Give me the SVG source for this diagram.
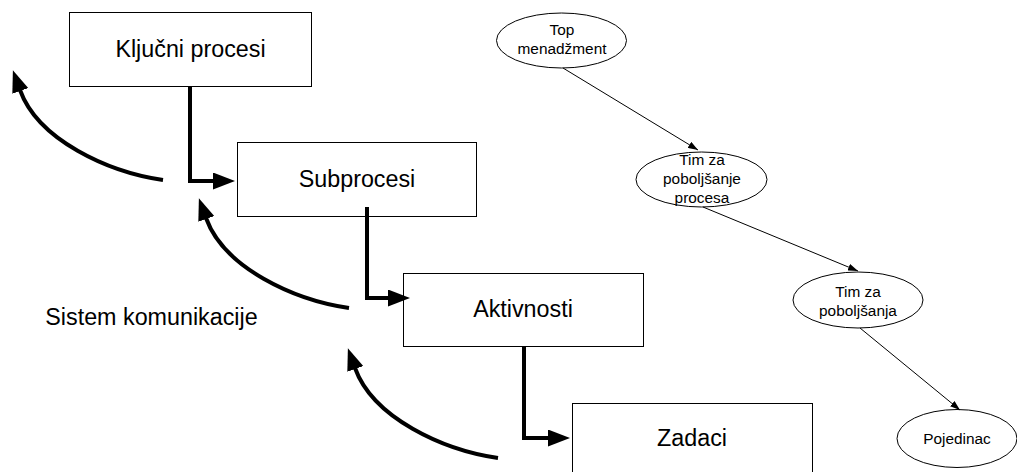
<svg xmlns="http://www.w3.org/2000/svg" width="1017" height="472" viewBox="0 0 1017 472">
  <style>
    .box { fill: #ffffff; stroke: #000000; stroke-width: 1; }
    .oval { fill: #ffffff; stroke: #000000; stroke-width: 1; }
    .big { font-family: "Liberation Sans", Arial, sans-serif; font-size: 23.3px; fill: #000000; text-anchor: middle; }
    .small { font-family: "Liberation Sans", Arial, sans-serif; font-size: 15.4px; fill: #000000; text-anchor: middle; }
    .thick { fill: none; stroke: #000000; stroke-width: 4; marker-end: url(#headBig); }
    .thin { fill: none; stroke: #000000; stroke-width: 1; marker-end: url(#headSmall); }
  </style>
  <defs>
    <marker id="headBig" markerUnits="userSpaceOnUse" markerWidth="22" markerHeight="17" viewBox="0 0 22 17" refX="1" refY="8.5" orient="auto">
      <path d="M0,0 L22,8.5 L0,17 z" fill="#000000"/>
    </marker>
    <marker id="headSmall" markerUnits="userSpaceOnUse" markerWidth="10" markerHeight="7" viewBox="0 0 10 7" refX="10" refY="3.5" orient="auto">
      <path d="M0,0 L10,3.5 L0,7 z" fill="#000000"/>
    </marker>
  </defs>

  <rect width="1017" height="472" fill="#ffffff"/>

  <!-- process hierarchy boxes -->
  <g id="kljucni-procesi">
    <rect class="box" x="69.5" y="12.5" width="242" height="74"/>
    <text class="big" x="190.5" y="57">Ključni procesi</text>
  </g>
  <g id="subprocesi">
    <rect class="box" x="237.5" y="142.5" width="239" height="74"/>
    <text class="big" x="357" y="187">Subprocesi</text>
  </g>
  <g id="aktivnosti">
    <rect class="box" x="403.5" y="273.5" width="240" height="73"/>
    <text class="big" x="523" y="317">Aktivnosti</text>
  </g>
  <g id="zadaci">
    <rect class="box" x="572.5" y="403.5" width="240" height="74"/>
    <text class="big" x="692" y="446">Zadaci</text>
  </g>

  <g id="sistem-komunikacije">
    <text class="big" x="151.5" y="325">Sistem komunikacije</text>
  </g>

  <!-- team hierarchy ovals -->
  <g id="top-menadzment">
    <ellipse class="oval" cx="561.5" cy="40.5" rx="65" ry="27.5"/>
    <text class="small" x="562" y="35">Top</text>
    <text class="small" x="562" y="54">menadžment</text>
  </g>
  <g id="tim-proces">
    <ellipse class="oval" cx="701.5" cy="179.5" rx="65.5" ry="27.5"/>
    <text class="small" x="702" y="165">Tim za</text>
    <text class="small" x="702" y="184">poboljšanje</text>
    <text class="small" x="702" y="203">procesa</text>
  </g>
  <g id="tim-poboljsanja">
    <ellipse class="oval" cx="858" cy="300" rx="65" ry="28"/>
    <text class="small" x="858" y="297">Tim za</text>
    <text class="small" x="858" y="316">poboljšanja</text>
  </g>
  <g id="pojedinac">
    <ellipse class="oval" cx="957" cy="438.5" rx="60" ry="29"/>
    <text class="small" x="957" y="444">Pojedinac</text>
  </g>

  <!-- connectors -->
  <g id="connectors">
    <!-- stepped flow between process levels -->
    <path class="thick" d="M190,86 V181 H214"/>
    <path class="thick" d="M367,207 V298 H389"/>
    <path class="thick" d="M524,346 V438 H549"/>
    <!-- curved feedback arrows -->
    <path class="thick" d="M163,180 C108,172 38,140 20,90"/>
    <path class="thick" d="M349,308 C294,300 224,268 206,218"/>
    <path class="thick" d="M498,458 C443,450 373,418 355,368"/>
    <!-- team chain -->
    <path class="thin" d="M563,68 L698,150"/>
    <path class="thin" d="M703,207 L858,271"/>
    <path class="thin" d="M860,328 L960,410"/>
  </g>
</svg>
